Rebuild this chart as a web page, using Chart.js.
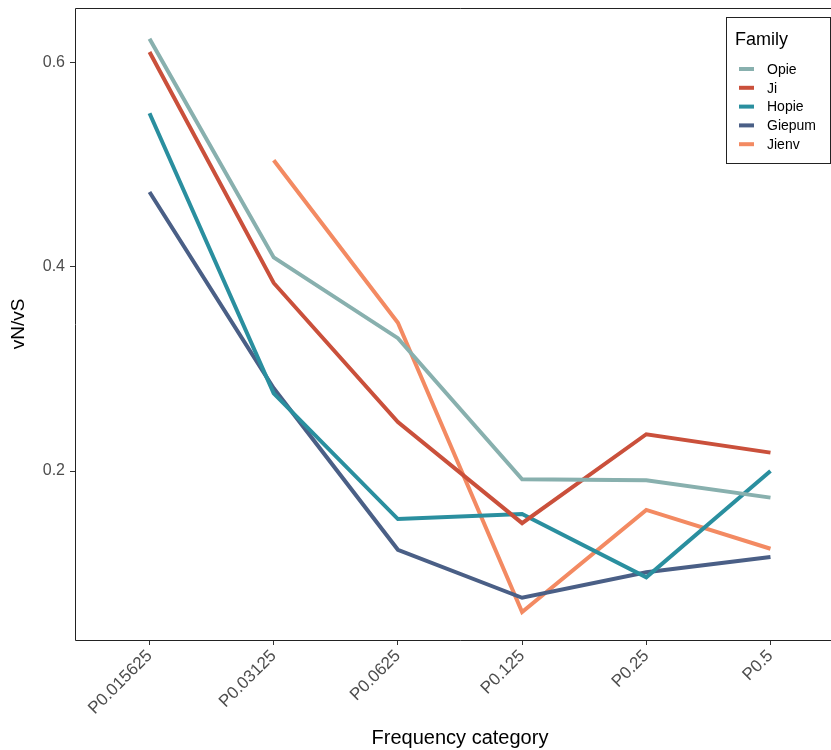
<!DOCTYPE html>
<html>
<head>
<meta charset="utf-8">
<script src="https://cdn.jsdelivr.net/npm/chart.js@4.4.1/dist/chart.umd.min.js"></script>
<style>
  html, body { margin: 0; padding: 0; background: #fff; overflow: hidden; }
  #wrap { width: 860px; height: 750px; position: relative; }
</style>
</head>
<body>
<div id="wrap"><canvas id="lineChart" width="845" height="750"></canvas></div>
<script>
// Data
const categories = ['P0.015625', 'P0.03125', 'P0.0625', 'P0.125', 'P0.25', 'P0.5'];
const opie   = [0.623, 0.409, 0.330, 0.192, 0.191, 0.174];
const ji     = [0.610, 0.384, 0.248, 0.149, 0.236, 0.218];
const hopie  = [0.550, 0.276, 0.153, 0.158, 0.096, 0.200];
const giepum = [0.473, 0.281, 0.123, 0.076, 0.101, 0.116];
const jienv  = [null, 0.504, 0.345, 0.062, 0.162, 0.124];
const yTicks = [0.2, 0.4, 0.6];

const colors = ['#88b0ae', '#ca503b', '#2a8f9f', '#4a5f86', '#f38a62'];
const names = ['Opie', 'Ji', 'Hopie', 'Giepum', 'Jienv'];
const series = [opie, ji, hopie, giepum, jienv];

const FONT = 'Liberation Sans, Arial, sans-serif';

function toPoints(arr) {
    return arr.map((v, i) => ({ x: i, y: v }));
}

// Panel box around the plot area (right side runs off the page, as in the reference)
const panelBox = {
    id: 'panelBox',
    afterDraw(chart) {
        const { ctx, chartArea: a } = chart;
        ctx.save();
        ctx.strokeStyle = '#222';
        ctx.lineWidth = 1;
        ctx.beginPath();
        ctx.moveTo(chart.width, a.top + 0.5);
        ctx.lineTo(a.left + 0.5, a.top + 0.5);
        ctx.lineTo(a.left + 0.5, a.bottom + 0.5);
        ctx.lineTo(chart.width, a.bottom + 0.5);
        ctx.stroke();
        ctx.restore();
    }
};

// ggplot-like legend box at top right
const boxLegend = {
    id: 'boxLegend',
    afterDraw(chart) {
        const ctx = chart.ctx;
        const x0 = 726, y0 = 17, w = 104, h = 146;
        ctx.save();
        ctx.fillStyle = '#fff';
        ctx.fillRect(x0, y0, w, h);
        ctx.strokeStyle = '#222';
        ctx.lineWidth = 1;
        ctx.strokeRect(x0 + 0.5, y0 + 0.5, w, h);
        ctx.fillStyle = '#000';
        ctx.font = '18px ' + FONT;
        ctx.textBaseline = 'middle';
        ctx.fillText('Family', 735, 40);
        ctx.font = '14px ' + FONT;
        chart.data.datasets.forEach((ds, i) => {
            const y = 69 + i * 18.8;
            ctx.strokeStyle = ds.borderColor;
            ctx.lineWidth = 4;
            ctx.beginPath();
            ctx.moveTo(739, y);
            ctx.lineTo(754, y);
            ctx.stroke();
            ctx.fillStyle = '#000';
            ctx.fillText(ds.label, 767, y + 1);
        });
        ctx.restore();
    }
};

const ctx = document.getElementById('lineChart').getContext('2d');
const lineChart = new Chart(ctx, {
    type: 'line',
    data: {
        datasets: series.map((s, i) => ({
            label: names[i],
            data: toPoints(s),
            borderColor: colors[i],
            backgroundColor: colors[i],
            borderWidth: 4,
            pointRadius: 0,
            tension: 0,
            spanGaps: false
        }))
    },
    options: {
        responsive: false,
        maintainAspectRatio: false,
        animation: false,
        layout: { autoPadding: false, padding: { top: 8, right: 0, left: 7, bottom: 0 } },
        plugins: {
            legend: { display: false },
            tooltip: { enabled: false }
        },
        scales: {
            x: {
                type: 'linear',
                min: -0.6,
                max: 5.6,
                afterBuildTicks(scale) {
                    scale.ticks = categories.map((c, i) => ({ value: i }));
                },
                afterFit(scale) {
                    scale.height = 110;
                    scale.paddingLeft = 0;
                    scale.paddingRight = 0;
                },
                ticks: {
                    autoSkip: false,
                    minRotation: 45,
                    maxRotation: 45,
                    color: '#4d4d4d',
                    font: { family: FONT, size: 17 },
                    padding: 1,
                    callback: (v) => categories[v]
                },
                grid: { drawOnChartArea: false, drawTicks: true, tickLength: 5, color: '#333' },
                border: { display: false },
                title: {
                    display: true,
                    text: 'Frequency category',
                    color: '#000',
                    font: { family: FONT, size: 20 },
                    padding: { top: 0, bottom: 0 }
                }
            },
            y: {
                min: 0.0347,
                max: 0.653,
                afterBuildTicks(scale) {
                    scale.ticks = yTicks.map(v => ({ value: v }));
                },
                afterFit(scale) {
                    scale.width = 68;
                    scale.paddingTop = 0;
                    scale.paddingBottom = 0;
                },
                ticks: {
                    color: '#4d4d4d',
                    font: { family: FONT, size: 16 },
                    padding: 5,
                    callback: (v) => v.toFixed(1)
                },
                grid: { drawOnChartArea: false, drawTicks: true, tickLength: 5, color: '#333' },
                border: { display: false },
                title: {
                    display: true,
                    text: 'vN/vS',
                    color: '#000',
                    font: { family: FONT, size: 19 },
                    padding: { top: 0, bottom: 4 }
                }
            }
        }
    },
    plugins: [panelBox, boxLegend]
});
</script>
</body>
</html>
